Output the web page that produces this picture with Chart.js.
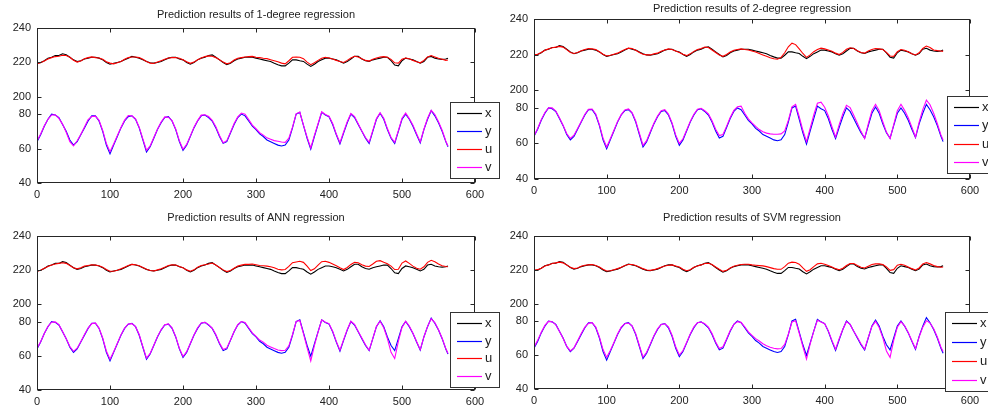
<!DOCTYPE html>
<html>
<head>
<meta charset="utf-8">
<script src="https://cdn.jsdelivr.net/npm/chart.js@4.4.1/dist/chart.umd.min.js"></script>
<style>
  body { margin: 0; background: #fff; }
  #wrap { position: relative; width: 988px; height: 416px; overflow: hidden; background: #fff; }
  canvas { position: absolute; }
</style>
</head>
<body>
<div id="wrap">
  <canvas id="c2" width="494" height="208" style="left:494px;top:0"></canvas>
  <canvas id="c4" width="494" height="208" style="left:494px;top:208px"></canvas>
  <canvas id="c1" width="506" height="208" style="left:0;top:0"></canvas>
  <canvas id="c3" width="506" height="208" style="left:0;top:208px"></canvas>
</div>
<script>
// sample index (x axis)
const sampleIdx = [0,5,10,15,20,25,30,35,40,45,50,55,60,65,70,75,80,85,90,95,100,105,110,115,120,125,130,135,140,145,150,155,160,165,170,175,180,185,190,195,200,205,210,215,220,225,230,235,240,245,250,255,260,265,270,275,280,285,290,295,300,305,310,315,320,325,330,335,340,345,350,355,360,365,370,375,380,385,390,395,400,405,410,415,420,425,430,435,440,445,450,455,460,465,470,475,480,485,490,495,500,505,510,515,520,525,530,535,540,545,550,555,560,563];

const seriesNames = ['x', 'y', 'u', 'v'];
const yTickLabels = [40, 60, 80, 200, 220, 240];
const xTickLabels = [0, 100, 200, 300, 400, 500, 600];

// measured series, same in all four panels
const xActual = [219.6,220,221,222.5,223,224,224,225,224.5,223,
  221.5,220.5,221,222,222.5,223,223,222.5,221.5,220,
  219,219.5,220,220.5,221.5,222.5,223.5,223,222.5,221.5,
  220.5,219.8,219.6,220,220.5,221.5,222.5,223,223,222,
  221.5,220,219,220,221.5,222.5,223,224,224.4,223,
  221.5,220,218.7,219.5,221,222,222.5,223,223,223,
  222.5,222,221.5,221,220.5,219.5,218.7,218,218,219.6,
  221.5,221.5,221,220.6,219,217.7,219,220.5,221.5,222.5,
  222.5,222,221.5,220.5,219.6,220.5,222,223.5,223.5,222,
  221,220.6,221.5,222,222.5,223,223,221,218.5,218,
  221,222.5,222,221.5,220.5,219.6,220.5,223,223.5,222.5,
  222,221.8,222,222.5];
const yActual = [64,68,73,77,80,79.5,78,74,70,65,
  62,64,68,72,76,79,79,76,70,62,
  57,62,67,72,76,78.5,79,77,72,65,
  58,61,66,71,75,78,78.5,76,71,64,
  59,62,67,72,76,79,79.5,78,76,72,
  67,63,64,69,74,78,80,79,76,73,
  71,68.5,67,65,64,63,62,61.5,62,65,
  72,80,81,73.5,66,59.7,67,74,81,79.5,
  78.5,74,68,62.7,69,75,80,78,74,70,
  66,63,70,77,80.5,77,71,66,63,70,
  77,80,77,73,68,63.3,71,77,82,79,
  75,70,64,61];

// predictions: 1-degree regression
const u1 = [219.3,219.8,220.8,222,222.8,223.4,223.6,224.2,224,223,
  221.3,220.2,220.8,222.2,222.8,223.2,222.8,222.6,221.8,220.4,
  219.6,219.2,219.8,220.6,221.8,222.8,223.2,223.2,222.8,221.8,
  220.6,219.6,219.4,220.2,221,221.8,222.6,222.8,222.9,222.4,
  221.6,220.4,219.5,220.2,221.6,222.6,223.4,223.8,223.6,222.8,
  221.6,220.2,219.2,219.8,221.4,222.4,222.8,223.2,223.4,223.5,
  223,222.8,222.4,222.2,221.6,221,220.4,219.6,219.2,221,
  223,223.2,223,222.2,220.2,218.7,219.8,221.2,222.4,223,
  222.6,222,221.2,220.6,220,221.2,222.6,223.6,223.2,222.2,
  221.2,220.8,221.8,222.6,223.2,223.4,223,221.8,219.8,219.6,
  221.8,222.6,222.2,221.2,220.4,219.8,221.2,223.2,224,223.2,
  222.4,221.8,221.2,221.4];
const v1 = [64.5,68.5,73.2,77,79.5,79.6,77.5,74.2,69.5,64,
  61.5,64.5,68.2,72.5,76.8,78.6,78.8,76.4,70.5,63,
  58.2,62.6,67.4,72.2,76.5,79.2,79,77.2,72.4,65.6,
  59,61.5,66.4,71.2,75.4,78.4,78.2,76.2,71.4,64.6,
  59.6,62.4,67.2,72.4,76.2,79.4,79.6,78.6,76.4,72.6,
  67.6,63.4,64.6,69.4,74.5,78.4,80.6,80,76.8,73.6,
  71.5,69.2,67.8,66.2,65.4,64.6,64.2,63.8,63.6,66,
  72.4,80.2,81.2,73.6,66.6,60.4,67.6,74.4,81.4,79.8,
  78.8,74.6,68.4,63.4,69.6,75.6,80.4,78.6,74.4,70.2,
  66.4,63.6,70.6,77.4,80.8,77.6,71.6,66.4,63.6,70.4,
  77.6,80.6,77.4,73.6,68.6,63.8,71.2,77.6,82.2,79.8,
  75.6,70.6,64.4,61.4];

// predictions: 2-degree regression
const u2 = [219.8,220.2,221.2,222.4,223.2,223.8,224.2,224.6,224.2,222.8,
  221.2,220.6,221.2,222.2,222.8,223.4,223.2,222.8,221.6,220.2,
  219.2,219.6,220.2,220.8,221.8,222.8,223.6,223.4,222.4,221.2,
  220.2,219.8,219.8,220.4,220.8,221.8,222.6,223.2,222.8,222,
  221.2,220.2,219.4,220.4,221.8,222.8,223.4,224.2,224,222.6,
  221.2,219.8,219,220,221.4,222.4,222.8,223.2,222.8,222.6,
  222,221.4,220.6,219.8,219,218.2,217.6,217.4,218.4,221,
  224.4,226.4,225.6,223.2,220.6,218.4,219.8,221.6,222.8,223.6,
  223.2,222.6,221.8,220.8,220,221.2,223,223.8,223.4,222.2,
  221.2,220.8,222,222.8,223.4,223.2,222.8,221.2,219.2,219,
  221.6,222.8,222.4,221.6,220.4,219.8,221,223.4,224.8,224,
  222.6,222.2,222,221.8];
const v2 = [64.2,68.4,73.4,77.4,80,80,78.2,74.4,70.2,65.6,
  62.8,64.6,68.4,72.4,76.4,79.2,79.4,76.6,70.6,63,
  58,62.6,67.4,72.4,76.2,78.8,79.4,77.4,72.6,65.8,
  59,61.6,66.6,71.4,75.4,78.4,79,76.6,71.6,64.8,
  60,62.6,67.4,72.4,76.4,79.2,79.8,78.4,76.6,72.8,
  68,64.4,65,69.6,74.6,78.6,80.6,81,77,73.8,
  71.6,69.6,67.8,66.6,65.8,65.4,65.2,65.2,65.4,67,
  73,80.6,82,75,67.4,61,68.4,76,82.6,83.2,
  80.4,75.6,69.4,63.6,70.6,76.8,81.4,80.2,75.8,71.4,
  66.8,62.8,71,78.4,82,78.4,72.2,66.4,62.8,70.6,
  78.4,82,78.6,74.4,69.2,63.6,72,79,84.4,81.8,
  77,71.2,64.8,62];

// predictions: ANN regression
const u3 = [219.4,220,221.2,222.2,223,223.6,224,224.4,224,222.8,
  221.4,220.8,221.4,222.4,222.8,223.2,223,222.6,221.8,220.4,
  219.4,219.4,220,220.8,221.8,222.8,223.4,223.2,222.6,221.6,
  220.6,219.8,219.6,220.2,220.8,221.8,222.8,223.2,223,222.2,
  221.4,220.2,219.4,220.2,221.8,222.8,223.2,223.6,224.2,223,
  221.6,220.2,219.2,219.8,221.2,222.4,223,223.4,223.4,223.6,
  223.2,222.8,222.6,222.4,222,221.4,220.6,220.2,220.4,222.2,
  224.4,224.8,225.2,224.6,222.4,219.8,220.8,223,225,225.2,
  224.6,223.6,222.6,221.4,220.4,221.6,223.4,224.6,224.4,223.2,
  222.4,222.2,223.6,225.2,225.6,224.6,223.8,222.4,220.4,220.6,
  224.2,225.4,224,222.4,221.2,220.6,222,224.6,225.8,225,
  223.6,222.6,222.2,222];
const v3 = [64.4,68.2,73,77.2,79.6,79.8,78.2,74.2,70,65.4,
  62.6,64.4,68.2,72.4,76.2,78.8,79.2,76.2,70.4,62.8,
  58,62.4,67.2,72.2,76.2,78.6,78.8,77,72.4,65.4,
  58.6,61.4,66.2,71.2,75.2,78.2,78.6,76.4,71.2,64.4,
  59.6,62.4,67.2,72.2,76.4,79.2,79.6,78.2,76.2,72.4,
  67.4,63.6,64.6,69.2,74.2,78.2,80,79.4,76.4,73.4,
  71.4,69.2,68,66.2,65.2,64.2,63.4,63,63.2,65.8,
  72.4,80,80.6,73,64.8,57,66,73.8,81,79.6,
  78.8,74.4,68.4,63.2,69.4,75.4,80.2,78.4,74.2,70.4,
  66.4,63.2,70.2,77.2,80.2,76.4,70,62,58.4,68.4,
  76.6,80.2,77.4,73.2,68.4,63.6,71,77.2,81.6,79.4,
  75.2,70.2,64.2,61.4];

// predictions: SVM regression
const u4 = [219.8,220.2,221,222.4,223,223.8,224.2,224.6,224.2,223,
  221.6,220.8,221.2,222.2,222.8,223,223.2,222.6,221.8,220.4,
  219.4,219.6,220.2,220.8,221.6,222.6,223.2,223.2,222.6,221.8,
  220.8,220,219.8,220.2,220.8,221.6,222.4,222.8,223,222.4,
  221.8,220.4,219.6,220.2,221.6,222.4,223,223.8,224,223.2,
  221.8,220.4,219.2,219.8,221.2,222.2,222.8,223.2,223.4,223.4,
  223,222.8,222.6,222.4,222,221.4,220.8,220.4,220.4,222,
  224,224.6,224.4,223.4,221.2,219.2,220.2,222,223.6,224,
  223.4,222.6,221.8,220.8,220.2,221,222.6,223.8,223.8,222.6,
  221.6,221.2,222.2,223.2,223.6,223.6,223.2,221.8,219.8,220.2,
  222.8,223.4,222.8,221.8,220.8,220,221.2,223.6,224.4,223.6,
  222.6,222,221.6,221.8];
const v4 = [64.6,68.6,73.4,77.4,79.8,79.6,77.8,74,69.8,65.2,
  62.4,64.2,68.4,72.6,76.4,78.6,79,76.4,70.6,63.2,
  58.6,62.6,67.4,72.4,76.4,78.4,78.8,77.2,72.6,65.6,
  58.8,61.6,66.4,71.4,75.4,78,78.4,76.6,71.6,64.8,
  60,62.6,67.4,72.4,76.6,79,79.4,78.4,76.4,72.6,
  67.6,63.8,64.8,69.4,74.4,78,79.6,79.2,76.6,73.6,
  71.6,69.6,68.2,66.6,65.4,64.6,64,63.6,63.8,66.2,
  72.2,79.4,80.2,72.8,65,57.6,66.4,74,80.4,79.4,
  78.4,74.2,68.6,63.4,69.6,75.2,79.6,78,74,70.4,
  66.6,63.4,70.4,76.8,79.8,76.2,70.2,62.4,58.6,68.6,
  76.4,79.6,77.2,73.2,68.4,63.8,70.6,76.4,80.2,78.8,
  75.4,70.6,64.6,62];

const seriesColors = ['#000000', '#0000ff', '#ff0000', '#ff00ff'];
const FONT = '"Liberation Sans", Arial, Helvetica, sans-serif';

// y axis is broken between 80 and 200 (gap shown as 10 units)
function broken(v) { return v >= 200 ? v - 110 : v; }
function unbroken(p) { return p > 80 ? p + 110 : p; }
function series(vals) { return vals.map((v, i) => ({ x: sampleIdx[i], y: broken(v) })); }

const panels = [
  { id: 'c1', title: 'Prediction results of 1-degree regression', u: u1, v: v1,
    area: { left: 37, top: 28, right: 475, bottom: 183 }, titleY: 15, legend: { left: 450, top: 102, w: 49, h: 76 } },
  { id: 'c2', title: 'Prediction results of 2-degree regression', u: u2, v: v2,
    area: { left: 40, top: 19, right: 476, bottom: 179 }, titleY: 9, legend: { left: 453, top: 96, w: 49, h: 77 } },
  { id: 'c3', title: 'Prediction results of ANN regression', u: u3, v: v3,
    area: { left: 37, top: 28, right: 475, bottom: 182 }, titleY: 10, legend: { left: 450, top: 104, w: 49, h: 75 } },
  { id: 'c4', title: 'Prediction results of SVM regression', u: u4, v: v4,
    area: { left: 40, top: 28, right: 476, bottom: 181 }, titleY: 10, legend: { left: 451, top: 104, w: 49, h: 79 } }
];

// matlab style box, inward ticks, title and legend
const matlabFrame = {
  id: 'matlabFrame',
  afterDraw(chart, args, opts) {
    const ctx = chart.ctx, a = chart.chartArea;
    const sx = chart.scales.x, sy = chart.scales.y;
    const L = Math.round(a.left) + 0.5, R = Math.round(a.right) - 0.5;
    const T = Math.round(a.top) + 0.5, B = Math.round(a.bottom) - 0.5;
    ctx.save();
    ctx.strokeStyle = '#262626';
    ctx.lineWidth = 1;
    ctx.strokeRect(L, T, R - L, B - T);
    ctx.beginPath();
    xTickLabels.forEach(v => {
      const px = Math.round(sx.getPixelForValue(v)) + 0.5;
      ctx.moveTo(px, B); ctx.lineTo(px, B - 4);
      ctx.moveTo(px, T); ctx.lineTo(px, T + 4);
    });
    yTickLabels.forEach(v => {
      const py = Math.round(sy.getPixelForValue(broken(v))) + 0.5;
      ctx.moveTo(L, py); ctx.lineTo(L + 4, py);
      ctx.moveTo(R, py); ctx.lineTo(R - 4, py);
    });
    ctx.stroke();

    // title
    ctx.fillStyle = '#222';
    ctx.font = '11px ' + FONT;
    ctx.textAlign = 'center';
    ctx.textBaseline = 'middle';
    ctx.fillText(opts.title, (a.left + a.right) / 2, opts.titleY);

    // legend
    const lg = opts.legend;
    ctx.fillStyle = '#fff';
    ctx.fillRect(lg.left + 0.5, lg.top + 0.5, lg.w, lg.h);
    ctx.strokeStyle = '#333';
    ctx.strokeRect(lg.left + 0.5, lg.top + 0.5, lg.w, lg.h);
    ctx.font = '13px ' + FONT;
    ctx.textAlign = 'left';
    const step = (lg.h - 22) / 3;
    chart.data.datasets.forEach((ds, i) => {
      const yy = Math.round(lg.top + 11 + i * step) + 0.5;
      ctx.strokeStyle = ds.borderColor;
      ctx.lineWidth = 1.2;
      ctx.beginPath();
      ctx.moveTo(lg.left + 7, yy); ctx.lineTo(lg.left + 32, yy);
      ctx.stroke();
      ctx.fillStyle = '#222';
      ctx.fillText(ds.label, lg.left + 35, yy);
    });
    ctx.restore();
  }
};

function makeChart(p) {
  const canvas = document.getElementById(p.id);
  const w = canvas.width, h = canvas.height;
  // order: later series (u, v) painted over x, y
  const datasets = [xActual, yActual, p.u, p.v].map((vals, i) => ({
    label: seriesNames[i],
    data: series(vals),
    borderColor: seriesColors[i],
    borderWidth: 1.1,
    pointRadius: 0,
    tension: 0,
    fill: false,
    order: 4 - i
  }));
  return new Chart(canvas, {
    type: 'line',
    data: { datasets },
    options: {
      responsive: false,
      animation: false,
      events: [],
      layout: { padding: { left: 0, top: p.area.top, right: w - p.area.right, bottom: 0 } },
      plugins: {
        legend: { display: false },
        tooltip: { enabled: false },
        title: { display: false },
        matlabFrame: { title: p.title, titleY: p.titleY, legend: p.legend }
      },
      scales: {
        x: {
          type: 'linear', min: 0, max: 600,
          afterBuildTicks: s => { s.ticks = xTickLabels.map(v => ({ value: v })); },
          ticks: { color: '#222', padding: 5, font: { family: FONT, size: 11 }, maxRotation: 0 },
          grid: { display: false, drawTicks: false },
          border: { display: false },
          afterFit: s => { s.height = h - p.area.bottom; }
        },
        y: {
          type: 'linear', min: 40, max: 130,
          afterBuildTicks: s => { s.ticks = yTickLabels.map(v => ({ value: broken(v) })); },
          ticks: { color: '#222', padding: 6, font: { family: FONT, size: 11 }, callback: v => unbroken(v) },
          grid: { display: false, drawTicks: false },
          border: { display: false },
          afterFit: s => { s.width = p.area.left; }
        }
      }
    },
    plugins: [matlabFrame]
  });
}

document.addEventListener('DOMContentLoaded', () => {
  Chart.defaults.font.family = FONT;
  panels.forEach(makeChart);
});
</script>
</body>
</html>
